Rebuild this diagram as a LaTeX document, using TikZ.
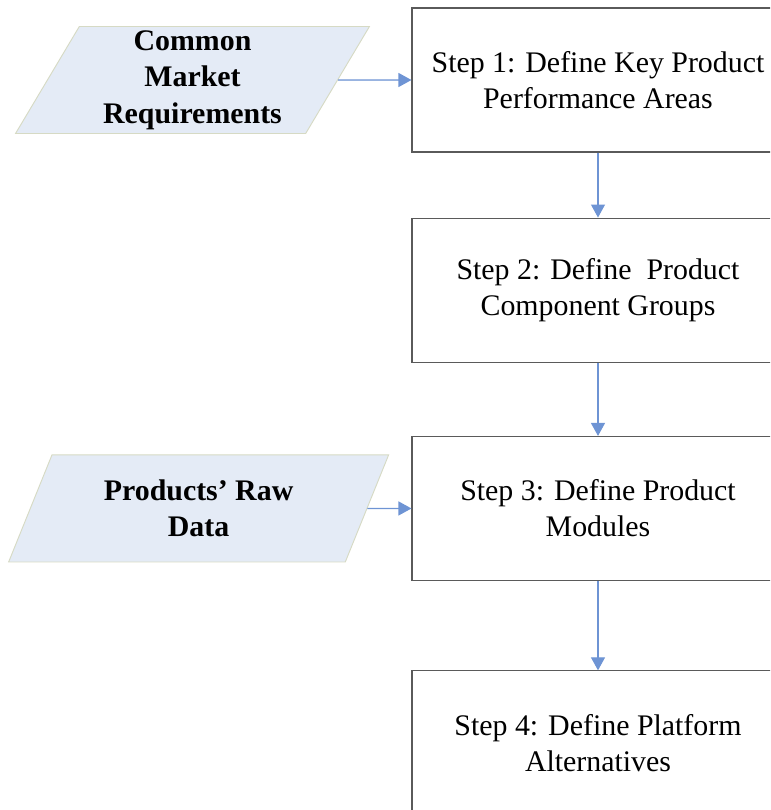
\documentclass[tikz,border=0pt]{standalone}
\usepackage{fontspec}
\setmainfont{Liberation Serif}
\usepackage{xcolor}
\usepackage{tikz}
\usetikzlibrary{arrows.meta,positioning,shapes.geometric}
\definecolor{frame}{RGB}{90,90,90}
\definecolor{flow}{RGB}{68,114,196}
\definecolor{flowline}{RGB}{110,148,212}
\definecolor{datafill}{RGB}{228,235,246}
\definecolor{dataedge}{RGB}{214,218,196}

\begin{document}
\begin{tikzpicture}[x=0.03cm,y=-0.03cm,
  stepbox/.style={rectangle,draw=frame,line width=0.9pt,fill=white,align=center,
    minimum width=11.16cm,minimum height=4.32cm,inner sep=0pt,
    font=\fontsize{25.5}{31}\selectfont},
  datain/.style={trapezium,trapezium stretches=true,draw=dataedge,line width=0.8pt,fill=datafill,
    align=center,minimum height=3.21cm,inner sep=0pt,
    font=\fontsize{25.5}{31}\selectfont\bfseries},
  arrow/.style={-{Triangle[length=0.39cm,width=0.42cm]},draw=flowline,fill=flow,line width=1pt}
]
\useasboundingbox (0,0) rectangle (770,810);
\clip (0,0) rectangle (770,810);
\node[stepbox] (step1) at (598,80) {Step 1: Define Key Product\\Performance Areas};
\node[stepbox,below=1.95cm of step1] (step2) {Step 2: Define\ \ Product\\Component Groups};
\node[stepbox,below=2.2cm of step2] (step3) {Step 3: Define Product\\Modules};
\node[stepbox,below=2.68cm of step3] (step4) {Step 4: Define Platform\\Alternatives};
\node[datain,trapezium left angle=63,trapezium right angle=117,minimum width=10.65cm,
  left=2.2cm of step1] (market) {Common\\Market\\Requirements};
\node[datain,trapezium left angle=64,trapezium right angle=116,minimum width=11.43cm,
  left=1.32cm of step3] (raw) {Products’ Raw\\Data};
\draw[arrow] (market) -- (step1);
\draw[arrow] (step1) -- (step2);
\draw[arrow] (step2) -- (step3);
\draw[arrow] (raw) -- (step3);
\draw[arrow] (step3) -- (step4);
\end{tikzpicture}
\end{document}
